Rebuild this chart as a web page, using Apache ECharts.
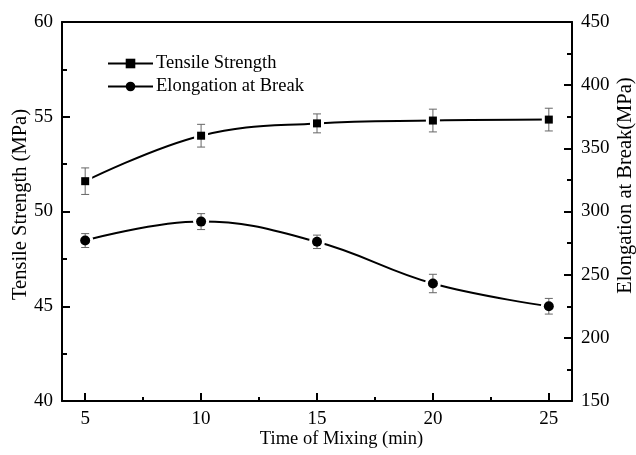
<!DOCTYPE html>
<html>
<head>
<meta charset="utf-8">
<script src="https://cdn.jsdelivr.net/npm/echarts@6/dist/echarts.min.js"></script>
<style>
  html, body { margin: 0; padding: 0; background: #fff; }
  #chart { width: 636px; height: 455px; }
</style>
</head>
<body>
<div id="chart"></div>
<script>
// Mixing time (min)
var mixingTime = [5, 10, 15, 20, 25];
// Tensile strength (MPa) and its error
var tensileStrength = [51.6, 54.0, 54.65, 54.8, 54.85];
var tensileError = [0.7, 0.6, 0.5, 0.6, 0.6];
// Elongation at break (MPa) and its error
var elongation = [277, 292, 276, 243, 225];
var elongationError = [5.5, 6.3, 5.3, 7.3, 6.2];
// Axis ticks
var xMajorTicks = [5, 10, 15, 20, 25];
var xMinorTicks = [7.5, 12.5, 17.5, 22.5];

var FONT = '"Liberation Serif", "Times New Roman", serif';

function pairs(xs, ys) {
  return xs.map(function (x, i) { return [x, ys[i]]; });
}
function errRows(xs, ys, es) {
  return xs.map(function (x, i) { return [x, ys[i] - es[i], ys[i] + es[i]]; });
}

function errorBarRenderer(params, api) {
  var x = api.value(0);
  var lo = api.coord([x, api.value(1)]);
  var hi = api.coord([x, api.value(2)]);
  var cap = 4;
  var style = { stroke: '#666', lineWidth: 1, fill: null };
  return {
    type: 'group',
    children: [
      { type: 'line', shape: { x1: lo[0], y1: lo[1], x2: hi[0], y2: hi[1] }, style: style },
      { type: 'line', shape: { x1: lo[0] - cap, y1: lo[1], x2: lo[0] + cap, y2: lo[1] }, style: style },
      { type: 'line', shape: { x1: hi[0] - cap, y1: hi[1], x2: hi[0] + cap, y2: hi[1] }, style: style }
    ]
  };
}

var chart = echarts.init(document.getElementById('chart'), null, { renderer: 'canvas' });

var axisLine = { show: true, lineStyle: { color: '#000', width: 2 } };
var tickLabel = { color: '#000', fontFamily: FONT, fontSize: 19 };

chart.setOption({
  backgroundColor: '#fff',
  animation: false,
  grid: { left: 62, right: 64, top: 22, bottom: 54, containLabel: false, outerBoundsMode: 'none' },
  legend: {
    orient: 'vertical',
    left: 107,
    top: 54,
    padding: 0,
    itemWidth: 45,
    itemHeight: 12,
    itemGap: 4,
    data: ['Tensile Strength', 'Elongation at Break'],
    itemStyle: { borderWidth: 0, color: '#000' },
    textStyle: { color: '#000', fontFamily: FONT, fontSize: 18.5, padding: [0, 0, 0, -2] }
  },
  xAxis: [
    {
      type: 'value', min: 4, max: 26, position: 'bottom',
      name: 'Time of Mixing (min)', nameLocation: 'middle', nameGap: 29, nameMoveOverlap: false,
      nameTextStyle: { color: '#000', fontFamily: FONT, fontSize: 18.5, padding: [0, 0, 0, 49] },
      axisLine: axisLine,
      axisTick: { show: true, inside: true, length: 8, customValues: xMajorTicks, lineStyle: { color: '#000', width: 2 } },
      axisLabel: Object.assign({ customValues: xMajorTicks, margin: 9 }, tickLabel),
      splitLine: { show: false }
    },
    {
      type: 'value', min: 4, max: 26, position: 'top',
      axisLine: axisLine, axisTick: { show: false }, axisLabel: { show: false }, splitLine: { show: false }
    },
    {
      type: 'value', min: 4, max: 26, position: 'bottom',
      axisLine: { show: false },
      axisTick: { show: true, inside: true, length: 4, customValues: xMinorTicks, lineStyle: { color: '#000', width: 2 } },
      axisLabel: { show: false }, splitLine: { show: false }
    }
  ],
  yAxis: [
    {
      type: 'value', min: 40, max: 60, interval: 5, position: 'left',
      name: 'Tensile Strength (MPa)', nameLocation: 'middle', nameGap: 31, nameMoveOverlap: false,
      nameTextStyle: { color: '#000', fontFamily: FONT, fontSize: 20.5, padding: [0, 0, 0, 14] },
      axisLine: axisLine,
      axisTick: { show: true, inside: true, length: 8, lineStyle: { color: '#000', width: 2 } },
      minorTick: { show: true, splitNumber: 2, length: 5, lineStyle: { color: '#000', width: 2 } },
      axisLabel: Object.assign({ margin: 9 }, tickLabel),
      splitLine: { show: false }
    },
    {
      type: 'value', min: 150, max: 450, interval: 50, position: 'right',
      name: 'Elongation at Break(MPa)', nameLocation: 'middle', nameGap: 43, nameRotate: 90, nameMoveOverlap: false,
      nameTextStyle: { color: '#000', fontFamily: FONT, fontSize: 20.5, padding: [0, 0, 0, 52] },
      axisLine: axisLine,
      axisTick: { show: true, inside: true, length: 8, lineStyle: { color: '#000', width: 2 } },
      minorTick: { show: true, splitNumber: 2, length: 5, lineStyle: { color: '#000', width: 2 } },
      axisLabel: Object.assign({ margin: 9 }, tickLabel),
      splitLine: { show: false }
    }
  ],
  series: [
    {
      name: 'Tensile Strength', type: 'line', smooth: 0.4,
      xAxisIndex: 0, yAxisIndex: 0,
      data: pairs(mixingTime, tensileStrength),
      symbol: 'rect', symbolSize: 8, showSymbol: true,
      lineStyle: { color: '#000', width: 2 },
      itemStyle: { color: '#000' },
      z: 2
    },
    {
      name: 'Elongation at Break', type: 'line', smooth: 0.4,
      xAxisIndex: 0, yAxisIndex: 1,
      data: pairs(mixingTime, elongation),
      symbol: 'circle', symbolSize: 10, showSymbol: true,
      lineStyle: { color: '#000', width: 2 },
      itemStyle: { color: '#000' },
      z: 2
    },
    // white halos that open a small gap in the curve around each point
    {
      type: 'scatter', xAxisIndex: 0, yAxisIndex: 0,
      data: pairs(mixingTime, tensileStrength),
      symbol: 'rect', symbolSize: 14,
      itemStyle: { color: '#fff', opacity: 1 }, z: 3, silent: true
    },
    {
      type: 'scatter', xAxisIndex: 0, yAxisIndex: 1,
      data: pairs(mixingTime, elongation),
      symbol: 'circle', symbolSize: 16,
      itemStyle: { color: '#fff', opacity: 1 }, z: 3, silent: true
    },
    {
      type: 'custom', xAxisIndex: 0, yAxisIndex: 0,
      data: errRows(mixingTime, tensileStrength, tensileError),
      renderItem: errorBarRenderer, z: 4, silent: true
    },
    {
      type: 'custom', xAxisIndex: 0, yAxisIndex: 1,
      data: errRows(mixingTime, elongation, elongationError),
      renderItem: errorBarRenderer, z: 4, silent: true
    },
    {
      type: 'scatter', xAxisIndex: 0, yAxisIndex: 0,
      data: pairs(mixingTime, tensileStrength),
      symbol: 'rect', symbolSize: 8,
      itemStyle: { color: '#000', opacity: 1 }, z: 5, silent: true
    },
    {
      type: 'scatter', xAxisIndex: 0, yAxisIndex: 1,
      data: pairs(mixingTime, elongation),
      symbol: 'circle', symbolSize: 10,
      itemStyle: { color: '#000', opacity: 1 }, z: 5, silent: true
    }
  ]
});
</script>
</body>
</html>
